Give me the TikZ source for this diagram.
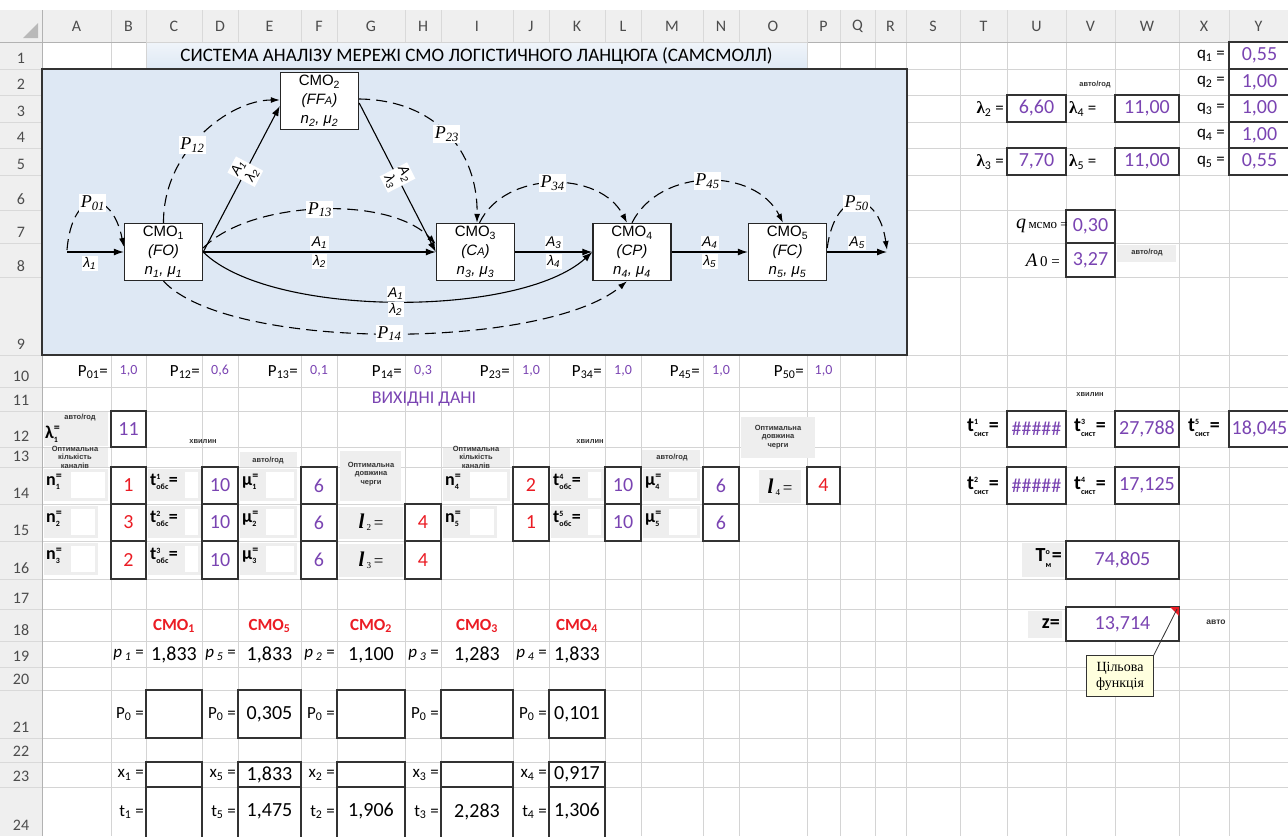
\documentclass[tikz,border=0pt]{standalone}
\usepackage{fontspec}
\setmainfont{Carlito}
\newfontfamily\arl{Liberation Sans}
\newfontfamily\tms{Liberation Serif}
\usetikzlibrary{arrows.meta,positioning}

\definecolor{violetval}{RGB}{122,68,178}
\definecolor{redval}{RGB}{235,28,36}
\definecolor{netbg}{RGB}{222,232,244}
\definecolor{hdrbg}{RGB}{239,239,239}
\definecolor{gridc}{RGB}{212,212,212}
\definecolor{patchc}{RGB}{238,238,238}
\definecolor{notebg}{RGB}{255,255,222}

\newcommand{\ix}[1]{\textsubscript{#1}}
\newcommand{\smf}{\fontsize{8}{8}\selectfont}
\newcommand{\stk}[3]{#1\ensuremath{{}^{\hbox{\smf\bfseries #2}}_{\hbox{\smf\bfseries #3}}}}
\newcommand{\stq}[2]{#1\ensuremath{{}^{\hbox{\fontsize{12}{12}\selectfont =}}_{\hbox{\smf\bfseries #2}}}}
\newcommand{\tinyb}{\arl\bfseries\fontsize{7.5}{8.5}\selectfont}

\begin{document}
\begin{tikzpicture}[x=1pt,y=-1pt,
  hdr/.style={font=\fontsize{16}{16}\selectfont,text=black!70,inner sep=0pt},
  cellbox/.style={draw=black!80,line width=1.1pt},
  val/.style={font=\fontsize{20}{20}\selectfont,inner sep=0pt},
  lab/.style={font=\fontsize{17}{17}\selectfont,inner sep=0pt},
  blab/.style={font=\bfseries\fontsize{18}{18}\selectfont,inner sep=0pt},
  note/.style={font=\tinyb,text=black!80,inner sep=0pt,align=center},
  smo/.style={draw=black!85,fill=white,line width=1.4pt,minimum width=78pt,minimum height=57pt,
    align=center,inner sep=1pt,font=\arl\fontsize{15}{19}\selectfont},
  flow/.style={line width=1.1pt,-{Latex[length=10pt,width=7pt]}},
  prob/.style={line width=1.1pt,dash pattern=on 11pt off 6pt,-{Latex[length=9pt,width=6pt]}},
  plab/.style={fill=white,inner sep=1.5pt,font=\tms\itshape\fontsize{18}{18}\selectfont},
  flab/.style={fill=white,inner sep=1.5pt,align=center,font=\arl\itshape\fontsize{14}{16}\selectfont}]
\useasboundingbox (0,0) rectangle (1288,836);

% sheet headers and grid
\fill[hdrbg] (0,10) rectangle (1288,42);
\fill[hdrbg] (0,42) rectangle (42,836);
\fill[gray!55] (23,38) -- (38,38) -- (38,23) -- cycle;
\foreach \x in {42,111,146,202,238,301,337,405,441,513,549,605,641,703,739,807,840,875,906,960,1007,1066,1115,1179,1229} {
  \draw[gridc,line width=0.8pt] (\x,42) -- (\x,836);
  \draw[gray!30,line width=0.8pt] (\x,10) -- (\x,42);
}
\foreach \y in {42,69,95,122,148,175,210,243,277,355,387,411,447,467,504,541,579,609,641,667,690,738,762,787} {
  \draw[gridc,line width=0.8pt] (42,\y) -- (1288,\y);
  \draw[gray!30,line width=0.8pt] (0,\y) -- (42,\y);
}
\draw[gray!60,line width=0.8pt] (0,42) -- (1288,42);
\draw[gray!60,line width=0.8pt] (42,10) -- (42,836);
\foreach \cl/\x in {A/76.5,B/128.5,C/174,D/220,E/269.5,F/319,G/371,H/423,I/477,J/531,K/577,L/623,M/672,N/721,O/773,P/823.5,Q/857.5,R/890.5,S/933,T/983.5,U/1036.5,V/1090.5,W/1147,X/1204,Y/1258.5}
  \node[hdr] at (\x,26) {\cl};
\foreach \r/\y in {1/58,2/84,3/111,4/137,5/164,6/199,7/232,8/266,9/344,10/376,11/400,12/436,13/456,14/493,15/530,16/568,17/598,18/630,19/656,20/679,21/727,22/751,23/776,24/825}
  \node[hdr] at (21,\y) {\r};

% title and network area
\shade[top color=netbg!45!white,bottom color=netbg] (146,42) rectangle (807,69);
\draw[gridc,line width=0.8pt] (146,42) rectangle (807,69);
\node[font=\fontsize{19}{19}\selectfont,inner sep=0pt] (title) at (476.5,56) {СИСТЕМА АНАЛІЗУ МЕРЕЖІ СМО ЛОГІСТИЧНОГО ЛАНЦЮГА (САМСМОЛЛ)};
\draw[black!80,line width=1.3pt,fill=netbg] (42,69) rectangle (907,355);

\node[smo] (smo1) at (163.5,252) {СМО\ix{1}\\\textit{(FO)}\\\textit{n\ix{1}, μ\ix{1}}};
\node[smo] (smo2) at (319.5,101) {СМО\ix{2}\\\textit{(FF{\fontsize{11}{11}\selectfont A})}\\\textit{n\ix{2}, μ\ix{2}}};
\node[smo] (smo3) at (475.5,252) {СМО\ix{3}\\\textit{(C{\fontsize{11}{11}\selectfont A})}\\\textit{n\ix{3}, μ\ix{3}}};
\node[smo] (smo4) at (632,252) {СМО\ix{4}\\\textit{(CP)}\\\textit{n\ix{4}, μ\ix{4}}};
\node[smo] (smo5) at (787.5,252) {СМО\ix{5}\\\textit{(FC)}\\\textit{n\ix{5}, μ\ix{5}}};
\coordinate (src) at (67,252);
\coordinate (snk) at (887,252);

\draw[flow] (src) -- (smo1.west) node[flab,below=3pt,pos=0.4] {λ\ix{1}};
\draw[prob] ([yshift=2pt]src) .. controls (72,188) and (112,188) .. ([yshift=5pt]smo1.west) node[plab,pos=0.5] {P\ix{01}};
\draw[flow] (smo1.east) -- ([yshift=-5pt]smo2.west) node[flab,sloped,pos=0.55] {A\ix{1}\\λ\ix{2}};
\draw[prob] (smo1.north) .. controls (163,150) and (230,100) .. ([yshift=1pt]smo2.west) node[plab,pos=0.42] {P\ix{12}};
\draw[flow] ([yshift=-2pt]smo2.east) -- (smo3.west) node[flab,sloped,pos=0.5] {A\ix{2}\\λ\ix{3}};
\draw[prob] ([yshift=2pt]smo2.east) .. controls (435,100) and (478,150) .. ([xshift=1.5pt]smo3.north) node[plab,pos=0.5] {P\ix{23}};
\draw[prob] ([yshift=4pt]smo1.east) .. controls (250,200) and (390,195) .. ([yshift=8pt]smo3.west) node[plab,pos=0.5] {P\ix{13}};
\draw[flow] (smo1.east) -- (smo3.west) node[flab,above=1pt,midway] {A\ix{1}} node[flab,below=1pt,midway] {λ\ix{2}};
\draw[flow] (smo1.east) .. controls (270,318) and (520,318) .. (smo4.west) node[flab,above=0pt,pos=0.5] {A\ix{1}} node[flab,below=0pt,pos=0.5] {λ\ix{2}};
\draw[prob] (smo1.south) .. controls (230,352) and (545,350) .. ([xshift=-5pt]smo4.south) node[plab,pos=0.5] {P\ix{14}};
\draw[flow] (smo3.east) -- (smo4.west) node[flab,above=1pt,midway] {A\ix{3}} node[flab,below=1pt,midway] {λ\ix{4}};
\draw[prob] ([xshift=4pt]smo3.north) .. controls (505,170) and (600,170) .. ([xshift=-5pt]smo4.north) node[plab,pos=0.5] {P\ix{34}};
\draw[flow] (smo4.east) -- (smo5.west) node[flab,above=1pt,midway] {A\ix{4}} node[flab,below=1pt,midway] {λ\ix{5}};
\draw[prob] (smo4.north) .. controls (660,167) and (755,167) .. ([xshift=-4.5pt]smo5.north) node[plab,pos=0.5] {P\ix{45}};
\draw[flow] (smo5.east) -- (snk) node[flab,above=1pt,midway] {A\ix{5}};
\draw[prob] ([yshift=4pt]smo5.east) .. controls (835,188) and (878,188) .. ([yshift=2pt]snk) node[plab,pos=0.5] {P\ix{50}};

% probabilities row
\foreach \x/\p/\vx/\v in {108/01/128.5/{1,0},200/12/220/{0,6},298/13/319/{0,1},402/14/423/{0,3},510/23/531/{1,0},602/34/623/{1,0},700/45/721/{1,0},804/50/823.5/{1,0}} {
  \node[lab,anchor=east] at (\x,372) {P\ix{\p}=};
  \node[font=\fontsize{14}{14}\selectfont,text=violetval,inner sep=0pt] at (\vx,371) {\v};
}
\node[font=\fontsize{18}{18}\selectfont,text=violetval,inner sep=0pt] (vhd) at (424,399) {ВИХІДНІ ДАНІ};

% input data labels
\fill[patchc] (44,412) rectangle (108,446);
\node[note] at (80,418) {авто/год};
\node[blab,anchor=west] at (45,434) {\stq{λ}{1}};
\foreach \xa/\ya/\xb/\yb in {44/448/108/467,443/448/510/467,240/452/297/467,642/450/700/467,340/451/401/501,741/417/815/458,339/507/403/539,339/544/403/577,759/470/801/503,1022/543/1064/577,1028/611/1062/638,1117/245/1176/262}
  \fill[patchc] (\xa,\ya) rectangle (\xb,\yb);
\foreach \x/\y/\w/\s/\t in {43/467/65/28/{\stq{n}{1}},43/504/55/28/{\stq{n}{2}},43/541/55/28/{\stq{n}{3}},
  147/467/54/38/{\stk{t}{1}{обс}=},147/504/54/38/{\stk{t}{2}{обс}=},147/541/54/38/{\stk{t}{3}{обс}=},
  239/467/58/27/{\stq{μ}{1}},239/504/58/27/{\stq{μ}{2}},239/541/58/27/{\stq{μ}{3}},
  442/467/68/28/{\stq{n}{4}},442/504/55/28/{\stq{n}{5}},
  550/467/54/38/{\stk{t}{4}{обс}=},550/504/54/38/{\stk{t}{5}{обс}=},
  642/467/58/27/{\stq{μ}{4}},642/504/58/27/{\stq{μ}{5}}} {
  \fill[patchc] (\x+1,\y+2) rectangle (\x+\w,\y+34);
  \fill[white] (\x+\s,\y+5) rectangle (\x+\w-3,\y+31);
  \node[blab,anchor=west] at (\x+3,\y+15) {\t};
}
\node[note] at (75,457) {Оптимальна\\кількість\\каналів};
\node[note] at (476,457) {Оптимальна\\кількість\\каналів};
\node[note] at (371,474) {Оптимальна\\довжина\\черги};
\node[note] at (778,437) {Оптимальна\\довжина\\черги};
\foreach \x/\y in {203/442,590/442,1090/395} \node[note] at (\x,\y) {хвилин};
\node[note] at (268,461) {авто/год};
\node[note] at (672,458) {авто/год};
\foreach \x/\y/\q in {371/522/2,371/560/3,780/487/4}
  \node[inner sep=0pt] at (\x,\y) {{\tms\bfseries\itshape\fontsize{21}{21}\selectfont l}{\tms\fontsize{13}{13}\selectfont\,\ix{\q}} {\tms\fontsize{17}{17}\selectfont =}};

% boxed values
\foreach \xa/\ya/\xb/\yb/\v/\cl in {
  1229/42/1290/69/{0,55}/violetval,1229/69/1290/95/{1,00}/violetval,1229/95/1290/122/{1,00}/violetval,
  1229/122/1290/148/{1,00}/violetval,1229/148/1290/175/{0,55}/violetval,
  1007/95/1066/122/{6,60}/violetval,1115/95/1179/122/{11,00}/violetval,
  1007/148/1066/175/{7,70}/violetval,1115/148/1179/175/{11,00}/violetval,
  1066/210/1115/243/{0,30}/violetval,1066/243/1115/277/{3,27}/violetval,
  1007/411/1066/447/{\#\#\#\#\#}/violetval,1115/411/1179/447/{27,788}/violetval,1229/411/1290/447/{18,045}/violetval,
  1007/467/1066/504/{\#\#\#\#\#}/violetval,1115/467/1179/504/{17,125}/violetval,
  1066/541/1179/579/{74,805}/violetval,1066/607/1179/641/{13,714}/violetval,
  111/411/146/447/11/violetval,
  111/467/146/504/1/redval,111/504/146/541/3/redval,111/541/146/579/2/redval,
  202/467/238/504/10/violetval,202/504/238/541/10/violetval,202/541/238/579/10/violetval,
  301/467/337/504/6/violetval,301/504/337/541/6/violetval,301/541/337/579/6/violetval,
  405/504/441/541/4/redval,405/541/441/579/4/redval,
  513/467/549/504/2/redval,513/504/549/541/1/redval,
  605/467/641/504/10/violetval,605/504/641/541/10/violetval,
  703/467/739/504/6/violetval,703/504/739/541/6/violetval,
  807/467/840/504/4/redval,
  146/690/202/738/{}/black,238/690/301/738/{0,305}/black,337/690/405/738/{}/black,441/690/513/738/{}/black,549/690/605/738/{0,101}/black,
  146/762/202/787/{}/black,238/762/301/787/{1,833}/black,337/762/405/787/{}/black,441/762/513/787/{}/black,549/762/605/787/{0,917}/black,
  146/787/202/840/{}/black,238/787/301/840/{1,475}/black,337/787/405/840/{1,906}/black,441/787/513/840/{2,283}/black,549/787/605/840/{1,306}/black} {
  \draw[cellbox,fill=white] (\xa,\ya) rectangle (\xb,\yb);
  \path (\xa,\ya) -- (\xb,{min(\yb,836)}) node[midway,val,text=\cl] {\v};
}

% results block on the right
\foreach \q/\y in {1/56,2/82,3/109,4/135,5/162} \node[lab,anchor=east] at (1225,\y) {q\ix{\q} =};
\node[note] at (1095,85) {авто/год};
\node[lab,anchor=east] at (1004,109) {{\tms\bfseries λ}\ix{2} =};
\node[lab,anchor=west] at (1069,109) {{\tms\bfseries λ}\ix{4} =};
\node[lab,anchor=east] at (1004,162) {{\tms\bfseries λ}\ix{3} =};
\node[lab,anchor=west] at (1069,162) {{\tms\bfseries λ}\ix{5} =};
\node[anchor=east,inner sep=0pt] at (1068,226) {{\tms\itshape\fontsize{20}{20}\selectfont q} {\tms\fontsize{13}{13}\selectfont мсмо =}};
\node[anchor=east,inner sep=0pt] at (1060,260) {{\tms\itshape\fontsize{19}{19}\selectfont A}{\tms\fontsize{15}{15}\selectfont\,0 =}};
\node[note] at (1147,253) {авто/год};
\node[font=\bfseries\fontsize{20}{20}\selectfont,inner sep=0pt] at (983,428) {\stk{t}{1}{сист}=};
\node[font=\bfseries\fontsize{20}{20}\selectfont,inner sep=0pt] at (1090,428) {\stk{t}{3}{сист}=};
\node[font=\bfseries\fontsize{20}{20}\selectfont,inner sep=0pt] at (1204,428) {\stk{t}{5}{сист}=};
\node[font=\bfseries\fontsize{20}{20}\selectfont,inner sep=0pt] at (983,486) {\stk{t}{2}{сист}=};
\node[font=\bfseries\fontsize{20}{20}\selectfont,inner sep=0pt] at (1090,486) {\stk{t}{4}{сист}=};
\node[font=\bfseries\fontsize{20}{20}\selectfont,inner sep=0pt,anchor=east] at (1062,558) {\stk{T}{o}{м}=};
\node[font=\bfseries\fontsize{20}{20}\selectfont,inner sep=0pt,anchor=east] at (1060,624) {z=};
\node[note,font=\arl\bfseries\fontsize{8.5}{9}\selectfont] at (1216,622) {авто};
\fill[redval] (1170,607) -- (1179,607) -- (1179,616) -- cycle;
\coordinate (mark) at (1177,609);
\node[draw=black!80,fill=notebg,font=\tms\fontsize{14}{16}\selectfont,align=center,inner sep=2pt,
  minimum width=67pt,minimum height=41pt] (cmt) at (1120,676) {Цільова\\функція};
\draw[black!80,line width=0.8pt] (cmt.north east) -- (mark);

% summary tables at the bottom
\foreach \x/\q in {174/1,269.5/5,371/2,477/3,577/4}
  \node[font=\bfseries\fontsize{17}{17}\selectfont,text=redval,inner sep=0pt] at (\x,626) {СМО\ix{\q}};
\foreach \xl/\q/\xv/\v in {144/1/174/{1,833},236/5/269.5/{1,833},335/2/371/{1,100},439/3/477/{1,283},547/4/577/{1,833}} {
  \node[lab,anchor=east] at (\xl,655) {\textit{p\,\ix{\q}} =};
  \node[val] at (\xv,655) {\v};
}
\foreach \xl/\q in {144/1,236/5,335/2,439/3,547/4} {
  \node[lab,anchor=east] at (\xl,714) {P\ix{0} =};
  \node[lab,anchor=east] at (\xl,775) {x\ix{\q} =};
  \node[lab,anchor=east] at (\xl,812) {t\ix{\q} =};
}
\end{tikzpicture}
\end{document}
